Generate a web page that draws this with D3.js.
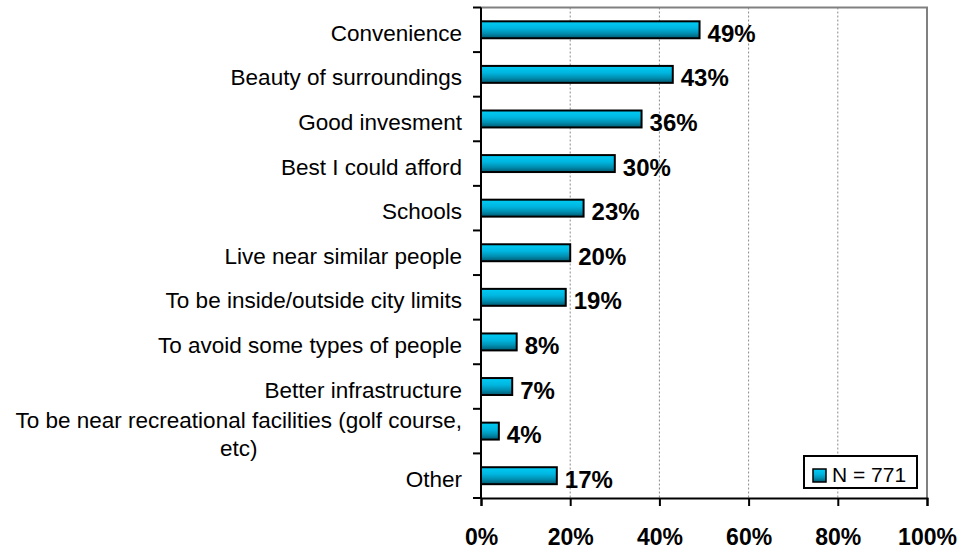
<!DOCTYPE html>
<html>
<head>
<meta charset="utf-8">
<script src="https://cdn.jsdelivr.net/npm/d3@7"></script>
<style>
  html, body { margin: 0; padding: 0; background: #fff; }
  svg { display: block; font-family: "Liberation Sans", Arial, Helvetica, sans-serif; }
</style>
</head>
<body>
<svg id="chart" width="965" height="554"></svg>
<script>
// Reasons for choosing current home location
const categories = [
  "Convenience",
  "Beauty of surroundings",
  "Good invesment",
  "Best I could afford",
  "Schools",
  "Live near similar people",
  "To be inside/outside city limits",
  "To avoid some types of people",
  "Better infrastructure",
  "To be near recreational facilities (golf course,\netc)",
  "Other"
];
const values = [49, 43, 36, 30, 23, 20, 19, 8, 7, 4, 17];
const tickValues = [0, 20, 40, 60, 80, 100];
const legendLabel = "N = 771";

const svg = d3.select("#chart");
const plot = { left: 481, right: 927, top: 7.5, bottom: 498 };

const x = d3.scaleLinear().domain([0, 100]).range([plot.left, plot.right]);
const y = d3.scaleBand().domain(categories).range([plot.top, plot.bottom]).paddingInner(0.62).paddingOuter(0.31);

// vertical gradient used for bars and legend swatch
const defs = svg.append("defs");
const grad = defs.append("linearGradient").attr("id", "barGrad")
  .attr("x1", 0).attr("y1", 0).attr("x2", 0).attr("y2", 1);
[["0%", "#00cdf5"], ["40%", "#00b6e0"], ["70%", "#0090b2"], ["100%", "#005870"]]
  .forEach(([o, c]) => grad.append("stop").attr("offset", o).attr("stop-color", c));

// gridlines
svg.append("g").selectAll("line").data(tickValues.filter(d => d > 0 && d < 100)).join("line")
  .attr("x1", d => x(d)).attr("x2", d => x(d))
  .attr("y1", plot.top).attr("y2", plot.bottom)
  .attr("stroke", "#8a8a8a").attr("stroke-width", 1).attr("stroke-dasharray", "2,2");

// plot area frame (top and right)
svg.append("path")
  .attr("d", `M${plot.left},${plot.top}H${plot.right}V${plot.bottom}`)
  .attr("fill", "none").attr("stroke", "#808080").attr("stroke-width", 2);

// bars
svg.append("g").selectAll("rect").data(values).join("rect")
  .attr("x", x(0))
  .attr("y", (d, i) => y(categories[i]))
  .attr("width", d => x(d) - x(0))
  .attr("height", y.bandwidth())
  .attr("fill", "url(#barGrad)")
  .attr("stroke", "#000").attr("stroke-width", 2);

// value labels
svg.append("g").selectAll("text").data(values).join("text")
  .attr("x", d => x(d) + 8)
  .attr("y", (d, i) => y(categories[i]) + y.bandwidth() / 2 + 12)
  .attr("font-size", 24).attr("font-weight", "bold").attr("fill", "#000")
  .text(d => d + "%");

// x axis
const xAxis = svg.append("g").attr("transform", `translate(0,${plot.bottom})`)
  .call(d3.axisBottom(x).tickValues(tickValues).tickSize(8).tickFormat(d => d + "%"));
xAxis.select(".domain").attr("stroke", "#000").attr("stroke-width", 2);
xAxis.selectAll(".tick line").attr("stroke", "#000").attr("stroke-width", 2);
xAxis.selectAll(".tick text").attr("font-size", 23).attr("font-weight", "bold")
  .attr("font-family", "Liberation Sans, Arial, sans-serif").attr("fill", "#000")
  .attr("y", 31).attr("dy", "0.71em");

// y axis with ticks at category boundaries
const yAxisG = svg.append("g");
yAxisG.append("line").attr("x1", plot.left).attr("x2", plot.left)
  .attr("y1", plot.top).attr("y2", plot.bottom + 1)
  .attr("stroke", "#000").attr("stroke-width", 2);
const boundaries = categories.map(c => y(c) - y.step() * y.paddingInner() / 2).concat([plot.bottom]);
yAxisG.selectAll("line.tk").data(boundaries).join("line").attr("class", "tk")
  .attr("x1", plot.left - 8).attr("x2", plot.left)
  .attr("y1", d => d).attr("y2", d => d)
  .attr("stroke", "#000").attr("stroke-width", 2);

// category labels
const lineH = 28;
svg.append("g").selectAll("text").data(categories).join("text")
  .attr("text-anchor", "end")
  .attr("font-size", 22.5).attr("fill", "#000")
  .each(function (c) {
    const lines = c.split("\n");
    const cy = y(c) + y.bandwidth() / 2 + 3;
    const t = d3.select(this);
    lines.forEach((ln, k) => {
      t.append("tspan")
        .attr("x", 462)
        .attr("text-anchor", lines.length > 1 && k > 0 ? "middle" : "end")
        .attr("y", cy + 8 + (k - (lines.length - 1) / 2) * lineH)
        .text(ln);
    });
  });
// center the continuation line under the first line
svg.selectAll("text").each(function () {
  const tsp = d3.select(this).selectAll("tspan");
  if (tsp.size() > 1) {
    const first = tsp.nodes()[0];
    const w = first.getComputedTextLength();
    tsp.filter((d, i) => i > 0).attr("x", 462 - w / 2);
  }
});

// legend
const lg = svg.append("g");
lg.append("rect").attr("x", 804).attr("y", 456).attr("width", 113).attr("height", 32)
  .attr("fill", "#fff").attr("stroke", "#000").attr("stroke-width", 2);
lg.append("rect").attr("x", 813).attr("y", 469).attr("width", 13).attr("height", 13)
  .attr("fill", "url(#barGrad)").attr("stroke", "#000").attr("stroke-width", 1.5);
lg.append("text").attr("x", 832).attr("y", 482).attr("font-size", 21).attr("fill", "#000")
  .text(legendLabel);
</script>
</body>
</html>
